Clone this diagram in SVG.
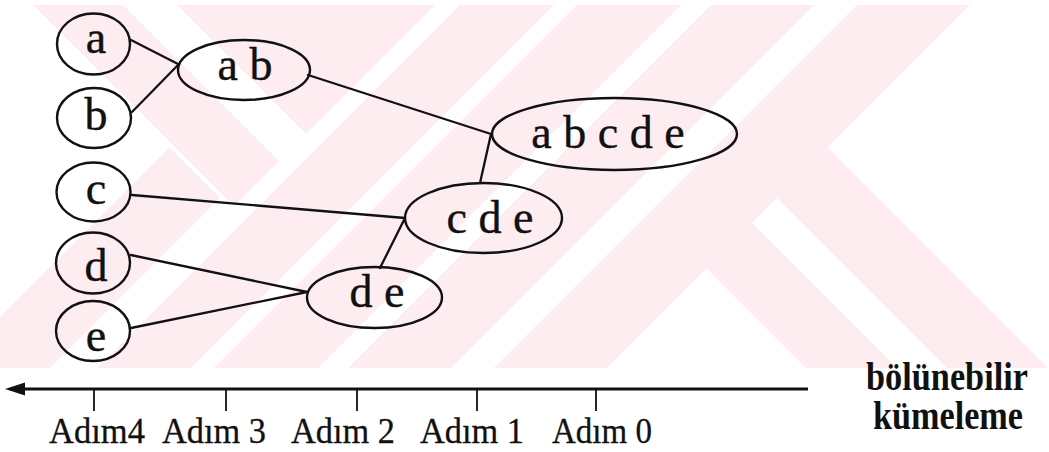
<svg xmlns="http://www.w3.org/2000/svg" width="1049" height="452" viewBox="0 0 1049 452">
  <defs>
    <style>
      .wm { fill: #fdedf0; stroke: none; }
      .node ellipse { fill: none; stroke: #111; stroke-width: 2.4; }
      .node text { font-family: "Liberation Serif", "Times New Roman", serif; font-size: 46px; fill: #111; stroke: #111; stroke-width: 0.4; text-anchor: middle; }
      .edge { stroke: #111; stroke-width: 2.3; fill: none; stroke-linecap: round; }
      .axis { stroke: #111; stroke-width: 3; fill: none; }
      .tick { stroke: #111; stroke-width: 1.8; }
      .step { font-family: "Liberation Serif", "Times New Roman", serif; font-size: 36px; fill: #111; stroke: #111; stroke-width: 0.3; text-anchor: middle; }
      .title { font-family: "Liberation Serif", "Times New Roman", serif; font-size: 39px; font-weight: bold; fill: #111; text-anchor: middle; }
    </style>
  </defs>

  <rect width="1049" height="452" fill="#ffffff"/>

  <!-- faint background emblem stripes -->
  <g id="emblem">
    <polygon class="wm" points="33,5 123,5 279,161 234,206"/>
    <polygon class="wm" points="177,5 435,5 306,134"/>
    <polygon class="wm" points="169.5,147.5 220,198 50,368 0,368 0,317"/>
    <polygon class="wm" points="460,5 554,5 191,368 97,368"/>
    <polygon class="wm" points="577,5 681,5 318,368 214,368"/>
    <polygon class="wm" points="711,5 814,5 451,368 348,368"/>
    <polygon class="wm" points="857,5 970,5 607,368 494,368"/>
    <polygon class="wm" points="706.5,268.5 752,223 897,368 806,368"/>
    <polygon class="wm" points="777,198 827.5,147.5 1048,368 947,368"/>
  </g>

  <!-- links between clusters -->
  <g id="connectors">
    <line class="edge" x1="131" y1="40" x2="178" y2="64"/>
    <line class="edge" x1="132" y1="112" x2="178" y2="65"/>
    <line class="edge" x1="308" y1="75" x2="491" y2="134"/>
    <line class="edge" x1="491" y1="134" x2="480" y2="183"/>
    <line class="edge" x1="132" y1="195" x2="405" y2="218"/>
    <line class="edge" x1="405" y1="218" x2="380" y2="268"/>
    <line class="edge" x1="131" y1="255" x2="307" y2="292"/>
    <line class="edge" x1="131" y1="328" x2="307" y2="292"/>
  </g>

  <!-- clusters -->
  <g id="node-a" class="node">
    <ellipse cx="93.5" cy="44" rx="36.5" ry="30.5"/>
    <text x="96" y="53">a</text>
  </g>
  <g id="node-b" class="node">
    <ellipse cx="94" cy="118" rx="37" ry="30"/>
    <text x="96" y="130">b</text>
  </g>
  <g id="node-c" class="node">
    <ellipse cx="93.5" cy="192" rx="37" ry="29.5"/>
    <text x="96" y="204">c</text>
  </g>
  <g id="node-d" class="node">
    <ellipse cx="93" cy="263" rx="37" ry="30.5"/>
    <text x="96" y="281">d</text>
  </g>
  <g id="node-e" class="node">
    <ellipse cx="93" cy="331" rx="37" ry="30"/>
    <text x="96" y="351">e</text>
  </g>
  <g id="node-ab" class="node">
    <ellipse cx="244" cy="70" rx="66" ry="30"/>
    <text x="245" y="80">a b</text>
  </g>
  <g id="node-abcde" class="node">
    <ellipse cx="614.5" cy="134" rx="122.5" ry="36"/>
    <text x="608" y="148">a b c d e</text>
  </g>
  <g id="node-cde" class="node">
    <ellipse cx="483.5" cy="218" rx="78.5" ry="35"/>
    <text x="490" y="233">c d e</text>
  </g>
  <g id="node-de" class="node">
    <ellipse cx="374.5" cy="297.5" rx="67.5" ry="30.5"/>
    <text x="377" y="307">d e</text>
  </g>

  <!-- step axis -->
  <g id="axis">
    <line class="axis" x1="20" y1="389" x2="808" y2="389"/>
    <polygon points="5,389 25,382.5 25,395.5" fill="#111"/>
    <line class="tick" x1="94" y1="389" x2="94" y2="411"/>
    <line class="tick" x1="226" y1="389" x2="226" y2="411"/>
    <line class="tick" x1="357" y1="389" x2="357" y2="411"/>
    <line class="tick" x1="477" y1="389" x2="477" y2="411"/>
    <line class="tick" x1="596" y1="389" x2="596" y2="411"/>
    <text class="step" x="97" y="443" textLength="96" lengthAdjust="spacingAndGlyphs">Adım4</text>
    <text class="step" x="214" y="443" textLength="104" lengthAdjust="spacingAndGlyphs">Adım 3</text>
    <text class="step" x="343" y="443" textLength="104" lengthAdjust="spacingAndGlyphs">Adım 2</text>
    <text class="step" x="472" y="443" textLength="104" lengthAdjust="spacingAndGlyphs">Adım 1</text>
    <text class="step" x="602" y="443" textLength="100" lengthAdjust="spacingAndGlyphs">Adım 0</text>
  </g>

  <g id="caption">
    <text class="title" x="947" y="390" textLength="162" lengthAdjust="spacingAndGlyphs">bölünebilir</text>
    <text class="title" x="948" y="429" textLength="150" lengthAdjust="spacingAndGlyphs">kümeleme</text>
  </g>
</svg>
